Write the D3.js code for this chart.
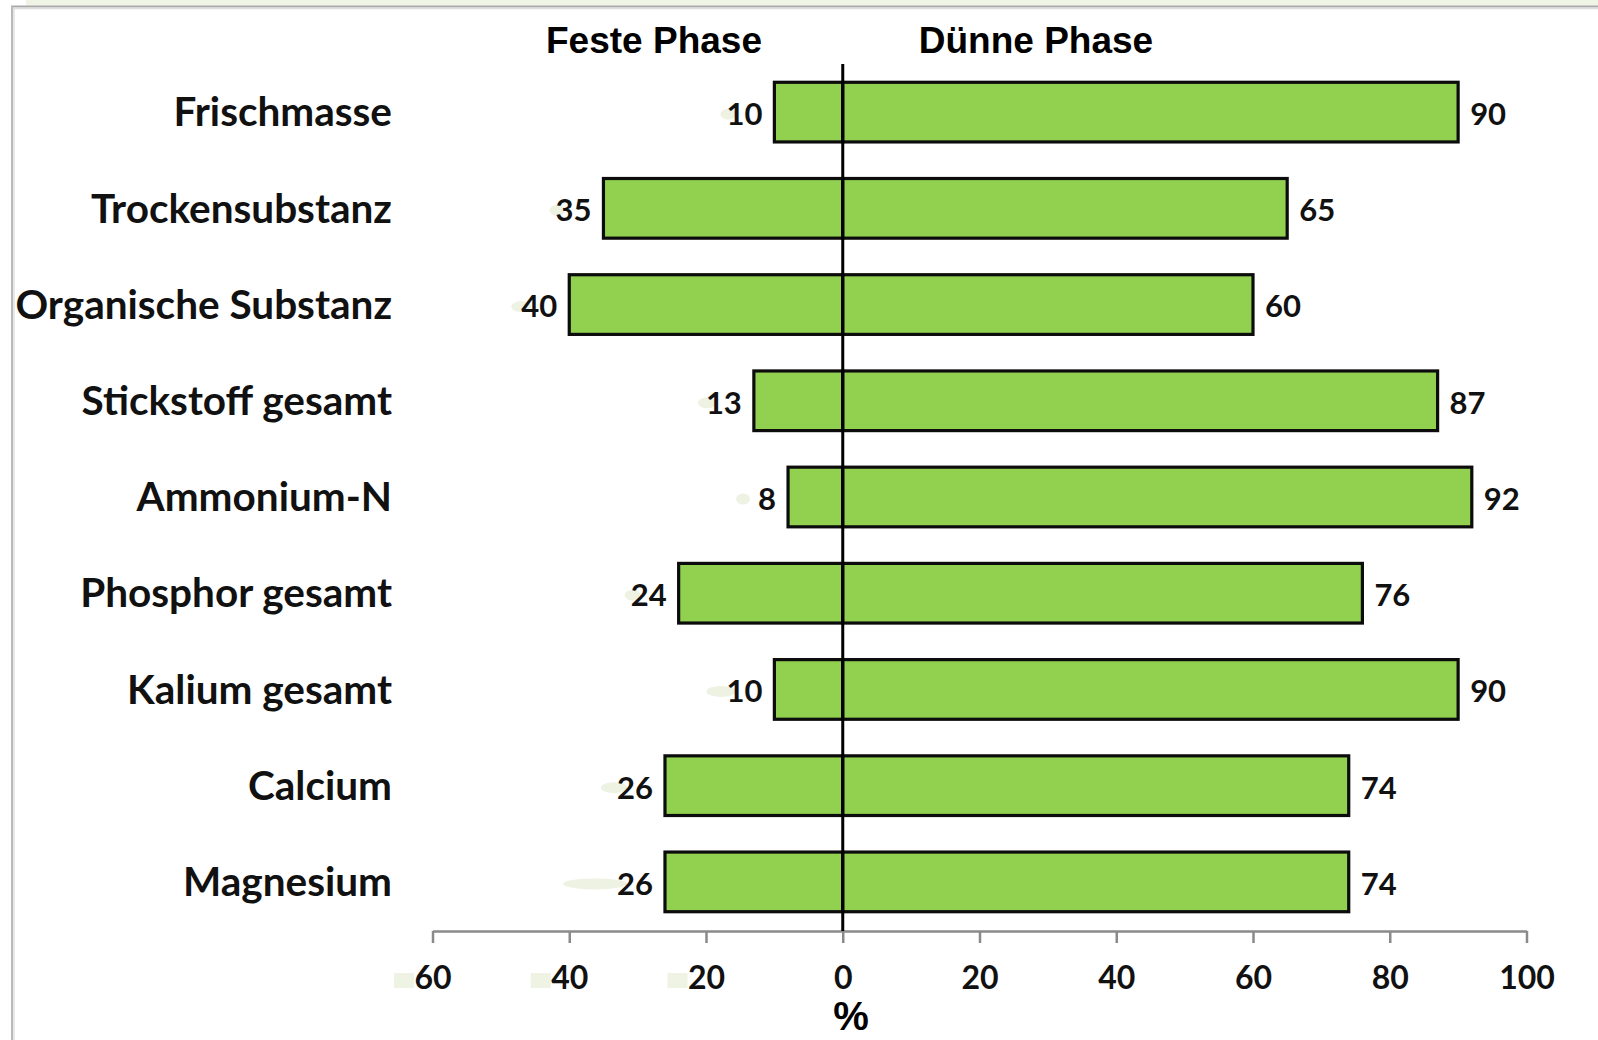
<!DOCTYPE html>
<html>
<head>
<meta charset="utf-8">
<script src="https://cdn.jsdelivr.net/npm/d3@7"></script>
<style>
  html, body { margin: 0; padding: 0; background: #ffffff; }
  svg { display: block; }
</style>
</head>
<body>
<svg id="chart" width="1598" height="1040"></svg>
<script>
// Verteilung der Inhaltsstoffe auf feste und dünne Phase nach der Separation (%)
const categories = [
  "Frischmasse", "Trockensubstanz", "Organische Substanz", "Stickstoff gesamt",
  "Ammonium-N", "Phosphor gesamt", "Kalium gesamt", "Calcium", "Magnesium"
];
const festePhase = [10, 35, 40, 13, 8, 24, 10, 26, 26];
const duennePhase = [90, 65, 60, 87, 92, 76, 90, 74, 74];
const tickValues = [-60, -40, -20, 0, 20, 40, 60, 80, 100];
const phaseTitles = ["Feste Phase", "Dünne Phase"];
const axisTitle = "%";

const svg = d3.select("#chart");
const W = 1598, H = 1040;

const bodyFont = "Lato, 'Open Sans', sans-serif";
const titleFont = "'Liberation Sans', Arial, sans-serif";
const ink = "#111111";

// frame around the chart area
svg.append("rect").attr("x", 26).attr("y", 0).attr("width", W - 26).attr("height", 5.5)
  .attr("fill", "#f0f4e5");
svg.append("line").attr("x1", 11).attr("x2", W).attr("y1", 6.5).attr("y2", 6.5)
  .attr("stroke", "#a9a9a9").attr("stroke-width", 2);
svg.append("line").attr("x1", 13).attr("x2", W).attr("y1", 8.5).attr("y2", 8.5)
  .attr("stroke", "#dedede").attr("stroke-width", 1.5);
svg.append("line").attr("x1", 12).attr("x2", 12).attr("y1", 6).attr("y2", H)
  .attr("stroke", "#b9b9b9").attr("stroke-width", 2);
svg.append("line").attr("x1", 14).attr("x2", 14).attr("y1", 8).attr("y2", H)
  .attr("stroke", "#e0e0e0").attr("stroke-width", 1.5);

// scales
const x = d3.scaleLinear().domain([-60, 100]).range([432.5, 1526.5]);
const y = d3.scaleBand().domain(categories).range([64, 930])
  .paddingInner(0.38).paddingOuter(0.19);

// x axis
const axisY = 931;
const xAxis = d3.axisBottom(x).tickValues(tickValues)
  .tickSize(12).tickSizeOuter(0).tickPadding(23)
  .tickFormat(d => String(Math.abs(d)));
const gx = svg.append("g").attr("transform", `translate(0,${axisY})`).call(xAxis);
gx.select(".domain").attr("stroke", "#8a8a8a").attr("stroke-width", 2.5);
gx.selectAll(".tick line").attr("stroke", "#8a8a8a").attr("stroke-width", 2.5);
gx.selectAll(".tick text")
  .attr("fill", ink).attr("font-family", bodyFont).attr("font-weight", 700)
  .attr("font-size", 32);

// pale patches in front of the negative-side tick labels
gx.selectAll(".tick").filter(d => d < 0)
  .insert("rect", "text")
  .attr("x", -39).attr("y", 42).attr("width", 20).attr("height", 15)
  .attr("fill", "#eff3e4");

// rows
const rows = categories.map((c, i) => ({ cat: c, feste: festePhase[i], duenne: duennePhase[i] }));

// category labels
svg.append("g").selectAll("text").data(rows).join("text")
  .attr("x", 392)
  .attr("y", d => y(d.cat) + y.bandwidth() / 2)
  .attr("dy", "0.35em")
  .attr("text-anchor", "end")
  .attr("font-family", bodyFont).attr("font-weight", 700).attr("font-size", 40.5)
  .attr("fill", ink)
  .text(d => d.cat);

const barFill = "#92d050";
const barStroke = "#0c0c0c";

// solid phase bars (to the left of zero)
svg.append("g").selectAll("rect").data(rows).join("rect")
  .attr("x", d => x(-d.feste))
  .attr("y", d => y(d.cat))
  .attr("width", d => x(0) - x(-d.feste))
  .attr("height", y.bandwidth())
  .attr("fill", barFill).attr("stroke", barStroke).attr("stroke-width", 3.2);

// liquid phase bars (to the right of zero)
svg.append("g").selectAll("rect").data(rows).join("rect")
  .attr("x", x(0))
  .attr("y", d => y(d.cat))
  .attr("width", d => x(d.duenne) - x(0))
  .attr("height", y.bandwidth())
  .attr("fill", barFill).attr("stroke", barStroke).attr("stroke-width", 3.2);

// soft halo to the left of each solid-phase value
const haloWidths = [16, 16, 20, 18, 14, 16, 30, 26, 64];
svg.append("g").selectAll("ellipse").data(rows).join("ellipse")
  .attr("cx", (d, i) => x(-d.feste) - 12 - 36 + 4 - haloWidths[i] / 2 + 6)
  .attr("cy", d => y(d.cat) + y.bandwidth() / 2 + 2)
  .attr("rx", (d, i) => haloWidths[i] / 2)
  .attr("ry", 5.5)
  .attr("fill", "#eef2e3");

// value labels
svg.append("g").selectAll("text").data(rows).join("text")
  .attr("x", d => x(-d.feste) - 12)
  .attr("y", d => y(d.cat) + y.bandwidth() / 2 + 2)
  .attr("dy", "0.35em")
  .attr("text-anchor", "end")
  .attr("font-family", bodyFont).attr("font-weight", 700).attr("font-size", 31)
  .attr("fill", ink)
  .text(d => d.feste);

svg.append("g").selectAll("text").data(rows).join("text")
  .attr("x", d => x(d.duenne) + 12)
  .attr("y", d => y(d.cat) + y.bandwidth() / 2 + 2)
  .attr("dy", "0.35em")
  .attr("text-anchor", "start")
  .attr("font-family", bodyFont).attr("font-weight", 700).attr("font-size", 31)
  .attr("fill", ink)
  .text(d => d.duenne);

// zero line
svg.append("line")
  .attr("x1", x(0)).attr("x2", x(0))
  .attr("y1", 64).attr("y2", axisY)
  .attr("stroke", "#000").attr("stroke-width", 3);

// phase titles
svg.append("text").attr("x", 654).attr("y", 53)
  .attr("text-anchor", "middle")
  .attr("font-family", titleFont).attr("font-weight", 700).attr("font-size", 37)
  .attr("fill", "#000").text(phaseTitles[0]);
svg.append("text").attr("x", 1036).attr("y", 53)
  .attr("text-anchor", "middle")
  .attr("font-family", titleFont).attr("font-weight", 700).attr("font-size", 37)
  .attr("fill", "#000").text(phaseTitles[1]);

// axis title
svg.append("text").attr("x", 851).attr("y", 1030)
  .attr("text-anchor", "middle")
  .attr("font-family", titleFont).attr("font-weight", 700).attr("font-size", 40)
  .attr("fill", "#000").text(axisTitle);
</script>
</body>
</html>
